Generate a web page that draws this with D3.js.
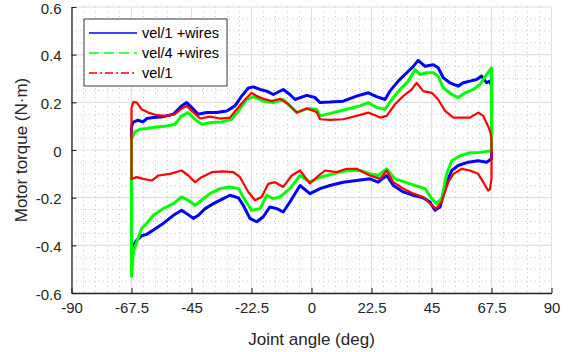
<!DOCTYPE html>
<html>
<head>
<meta charset="utf-8">
<script src="https://cdn.jsdelivr.net/npm/d3@7"></script>
<style>
  body { margin: 0; background: #fff; }
  svg { display: block; font-family: "Liberation Sans", Arial, sans-serif; }
</style>
</head>
<body>
<div class="chart"></div>
<script>
// tick values
const angleTicks = [-90, -67.5, -45, -22.5, 0, 22.5, 45, 67.5, 90];
const torqueTicks = [-0.6, -0.4, -0.2, 0, 0.2, 0.4, 0.6];

// series labels / colours
const seriesNames = ['vel/1 +wires', 'vel/4 +wires', 'vel/1'];
const seriesColors = ['#0000ff', '#00ff00', '#ff0000'];

// [angle (deg), torque (N·m)], upper branch goes left->right
const blueUpper = [[-67.5, 0.10], [-66.8, 0.117], [-65.1, 0.125], [-63.2, 0.118], [-61.8, 0.132], [-59.3, 0.136],
  [-55.6, 0.14], [-51.8, 0.15], [-48.7, 0.185], [-46.8, 0.199], [-44.9, 0.178], [-42.5, 0.15], [-39.3, 0.157],
  [-35.6, 0.157], [-31.8, 0.164], [-28.7, 0.185], [-26.2, 0.226], [-23.7, 0.26], [-21.8, 0.265], [-19.3, 0.254],
  [-16.8, 0.247], [-14.3, 0.233], [-10.6, 0.254], [-8.1, 0.233], [-6.2, 0.212], [-1.8, 0.229], [1.3, 0.22],
  [3.2, 0.199], [6.9, 0.201], [11.9, 0.205], [16.9, 0.226], [21.3, 0.24], [24.4, 0.224], [27.6, 0.212],
  [29.4, 0.247], [32.5, 0.289], [35.7, 0.324], [38.2, 0.351], [40.0, 0.376], [42.6, 0.351], [45.7, 0.358],
  [47.5, 0.345], [49.4, 0.303], [51.9, 0.282], [55.0, 0.268], [56.9, 0.282], [59.4, 0.289], [61.9, 0.296],
  [63.8, 0.31], [65.7, 0.282], [66.9, 0.289], [67.5, 0.268]];
// lower branch goes right->left
const blueLower = [[67.5, -0.037], [65.7, -0.051], [62.5, -0.045], [58.8, -0.051], [55.0, -0.065], [52.6, -0.086],
  [50.7, -0.135], [48.2, -0.239], [46.3, -0.253], [44.4, -0.218], [41.9, -0.201], [38.2, -0.19], [34.4, -0.176],
  [30.7, -0.149], [28.2, -0.107], [25.0, -0.135], [21.9, -0.121], [16.9, -0.128], [11.9, -0.135], [6.9, -0.149],
  [3.2, -0.162], [-0.6, -0.183], [-4.3, -0.149], [-8.1, -0.218], [-10.6, -0.26], [-13.0, -0.246], [-15.6, -0.239],
  [-18.1, -0.28], [-20.5, -0.301], [-23.1, -0.287], [-25.6, -0.232], [-27.4, -0.201], [-30.6, -0.19],
  [-33.1, -0.204], [-36.8, -0.225], [-39.9, -0.246], [-42.4, -0.274], [-44.3, -0.287], [-46.8, -0.267],
  [-48.7, -0.253], [-51.8, -0.274], [-55.6, -0.308], [-59.3, -0.336], [-61.8, -0.354], [-63.7, -0.36],
  [-65.5, -0.378], [-66.8, -0.399], [-67.5, -0.468]];

const greenUpper = [[-67.5, 0.046], [-66.2, 0.076], [-64.3, 0.087], [-61.8, 0.09], [-58.0, 0.097], [-54.3, 0.101],
  [-51.2, 0.108], [-48.7, 0.143], [-46.2, 0.157], [-43.7, 0.129], [-41.2, 0.108], [-37.4, 0.115], [-33.7, 0.118],
  [-29.9, 0.129], [-27.4, 0.164], [-24.3, 0.212], [-21.8, 0.224], [-18.1, 0.205], [-14.3, 0.199], [-10.6, 0.212],
  [-8.1, 0.185], [-5.5, 0.157], [-1.8, 0.174], [1.9, 0.171], [3.2, 0.143], [8.2, 0.157], [13.2, 0.171],
  [18.2, 0.185], [21.3, 0.199], [24.4, 0.178], [27.6, 0.171], [30.1, 0.212], [33.2, 0.254], [36.3, 0.289],
  [38.8, 0.337], [40.7, 0.317], [43.2, 0.324], [45.7, 0.324], [47.5, 0.31], [49.4, 0.261], [52.6, 0.233],
  [55.0, 0.22], [57.6, 0.24], [60.7, 0.254], [63.2, 0.275], [65.7, 0.317], [67.5, 0.345]];
const greenLower = [[67.5, -0.003], [63.2, -0.01], [59.4, -0.012], [55.7, -0.024], [52.6, -0.045], [50.7, -0.1],
  [48.8, -0.204], [46.9, -0.225], [45.1, -0.204], [42.6, -0.162], [38.8, -0.149], [35.1, -0.135], [31.3, -0.121],
  [28.2, -0.079], [25.0, -0.107], [21.9, -0.1], [18.2, -0.086], [13.2, -0.086], [8.2, -0.1], [3.2, -0.114],
  [-0.6, -0.135], [-4.3, -0.107], [-8.1, -0.162], [-11.8, -0.197], [-14.3, -0.204], [-16.8, -0.19],
  [-19.3, -0.246], [-22.4, -0.253], [-24.9, -0.211], [-27.4, -0.162], [-30.6, -0.155], [-34.3, -0.162],
  [-38.1, -0.183], [-41.2, -0.211], [-43.7, -0.232], [-46.2, -0.211], [-48.7, -0.197], [-51.8, -0.225],
  [-55.6, -0.246], [-59.3, -0.274], [-61.8, -0.308], [-63.7, -0.329], [-65.5, -0.385], [-66.8, -0.426],
  [-67.5, -0.53]];

const redUpper = [[-67.5, 0.178], [-66.8, 0.201], [-65.5, 0.199], [-63.7, 0.171], [-61.2, 0.157], [-58.0, 0.146],
  [-54.3, 0.143], [-51.2, 0.15], [-48.7, 0.174], [-46.8, 0.185], [-44.9, 0.164], [-41.8, 0.132], [-38.1, 0.14],
  [-34.3, 0.132], [-30.6, 0.136], [-28.0, 0.171], [-24.9, 0.212], [-22.4, 0.24], [-20.5, 0.226], [-18.1, 0.215],
  [-14.9, 0.205], [-11.8, 0.215], [-8.7, 0.192], [-5.5, 0.157], [-1.8, 0.174], [1.9, 0.16], [3.2, 0.129],
  [6.9, 0.126], [11.9, 0.129], [16.9, 0.143], [21.3, 0.157], [25.7, 0.136], [28.2, 0.143], [31.3, 0.192],
  [34.4, 0.226], [37.6, 0.254], [39.4, 0.282], [41.9, 0.247], [45.1, 0.24], [47.5, 0.212], [50.1, 0.164],
  [53.2, 0.136], [56.3, 0.136], [59.4, 0.136], [62.5, 0.157], [64.4, 0.143], [66.2, 0.101], [67.1, 0.074],
  [67.5, 0.046]];
const redLower = [[67.5, -0.12], [66.9, -0.165], [66.2, -0.17], [64.4, -0.135], [62.5, -0.1], [59.4, -0.086],
  [56.3, -0.079], [53.2, -0.1], [51.3, -0.135], [48.8, -0.218], [46.7, -0.246], [45.1, -0.232], [41.9, -0.197],
  [38.2, -0.183], [34.4, -0.162], [30.7, -0.135], [28.2, -0.086], [25.7, -0.121], [21.9, -0.107], [16.9, -0.079],
  [13.2, -0.079], [9.4, -0.093], [5.1, -0.086], [2.4, -0.11], [-0.6, -0.14], [-4.3, -0.086], [-7.4, -0.107],
  [-10.6, -0.155], [-13.7, -0.135], [-16.2, -0.142], [-18.7, -0.197], [-21.2, -0.211], [-23.7, -0.176],
  [-26.8, -0.114], [-29.3, -0.093], [-33.1, -0.09], [-37.4, -0.093], [-41.2, -0.114], [-43.7, -0.135],
  [-46.2, -0.107], [-48.7, -0.086], [-53.1, -0.1], [-57.4, -0.107], [-59.9, -0.128], [-63.1, -0.121],
  [-65.5, -0.114], [-67.5, -0.121]];

const loops = [
  { upper: blueUpper, lower: blueLower, width: 3 },
  { upper: greenUpper, lower: greenLower, width: 3 },
  { upper: redUpper, lower: redLower, width: 2.2 }
];

const w = 574;
const h = 352;
const margin = { top: 7, right: 22.5, bottom: 59, left: 71.5 };
const innerW = w - margin.left - margin.right;
const innerH = h - margin.top - margin.bottom;
const ink = '#262626';

const svg = d3.select('.chart')
  .append('svg')
  .attr('width', w)
  .attr('height', h);

const g = svg.append('g')
  .attr('transform', `translate(${margin.left}, ${margin.top})`);

const x = d3.scaleLinear().domain([-90, 90]).range([0, innerW]);
const y = d3.scaleLinear().domain([-0.6, 0.6]).range([innerH, 0]);

// minor grid (dotted)
const minorX = d3.range(-90, 90.01, 4.5).filter(v => !angleTicks.some(t => Math.abs(t - v) < 1e-6));
const minorY = d3.range(-0.6, 0.601, 0.05).filter(v => !torqueTicks.some(t => Math.abs(t - v) < 1e-6));

g.append('g')
  .selectAll('line')
  .data(minorX)
  .enter()
  .append('line')
  .attr('x1', d => x(d)).attr('x2', d => x(d))
  .attr('y1', 0).attr('y2', innerH)
  .attr('stroke', '#c4c4c4')
  .attr('stroke-width', 1)
  .attr('stroke-dasharray', '1,3.5');

g.append('g')
  .selectAll('line')
  .data(minorY)
  .enter()
  .append('line')
  .attr('x1', 0).attr('x2', innerW)
  .attr('y1', d => y(d)).attr('y2', d => y(d))
  .attr('stroke', '#c4c4c4')
  .attr('stroke-width', 1)
  .attr('stroke-dasharray', '1,3.5');

// major grid
g.append('g')
  .selectAll('line')
  .data(angleTicks)
  .enter()
  .append('line')
  .attr('x1', d => x(d)).attr('x2', d => x(d))
  .attr('y1', 0).attr('y2', innerH)
  .attr('stroke', '#e0e0e0')
  .attr('stroke-width', 1.2);

g.append('g')
  .selectAll('line')
  .data(torqueTicks)
  .enter()
  .append('line')
  .attr('x1', 0).attr('x2', innerW)
  .attr('y1', d => y(d)).attr('y2', d => y(d))
  .attr('stroke', '#e0e0e0')
  .attr('stroke-width', 1.2);

// data loops: upper branch, drop at right end, lower branch back, rise at left end
const line = d3.line()
  .x(d => x(d[0]))
  .y(d => y(d[1]));

g.append('g')
  .attr('class', 'loops')
  .selectAll('path')
  .data(loops)
  .enter()
  .append('path')
  .attr('d', d => line(d.upper.concat(d.lower, [d.upper[0]])))
  .attr('fill', 'none')
  .attr('stroke', (d, i) => seriesColors[i])
  .attr('stroke-width', d => d.width)
  .attr('stroke-linejoin', 'round');

// axes (plain hyphen for negatives, like the original)
const fmt = d => String(d).replace('\u2212', '-');

const xAxis = d3.axisBottom(x)
  .tickValues(angleTicks)
  .tickSizeInner(-5)
  .tickSizeOuter(0)
  .tickPadding(9)
  .tickFormat(fmt);

const yAxis = d3.axisLeft(y)
  .tickValues(torqueTicks)
  .tickSizeInner(-5)
  .tickSizeOuter(0)
  .tickPadding(10)
  .tickFormat(fmt);

const gx = g.append('g')
  .attr('transform', `translate(0, ${innerH})`)
  .call(xAxis);
const gy = g.append('g').call(yAxis);

[gx, gy].forEach(a => {
  a.select('.domain').attr('stroke', ink).attr('stroke-width', 1.3);
  a.selectAll('.tick line').attr('stroke', ink).attr('stroke-width', 1.1);
  a.selectAll('.tick text')
    .attr('fill', ink)
    .style('font-size', '15px')
    .style('font-family', '"Liberation Sans", Arial, sans-serif');
});
gy.selectAll('.tick text').attr('dy', '0.4em');

// axis titles
svg.append('text')
  .attr('x', margin.left + innerW / 2)
  .attr('y', 345)
  .attr('text-anchor', 'middle')
  .attr('fill', ink)
  .style('font-size', '17px')
  .text('Joint angle (deg)');

svg.append('text')
  .attr('transform', `translate(27, ${margin.top + innerH / 2}) rotate(-90)`)
  .attr('text-anchor', 'middle')
  .attr('fill', ink)
  .style('font-size', '17px')
  .text('Motor torque (N·m)');

// legend
const legend = svg.append('g').attr('transform', 'translate(84, 19)');
legend.append('rect')
  .attr('width', 143)
  .attr('height', 67)
  .attr('fill', '#fff')
  .attr('stroke', ink)
  .attr('stroke-width', 0.9);

const dashes = [null, '10,5', '8,3,2,3'];
const rows = legend.selectAll('.row')
  .data(seriesNames)
  .enter()
  .append('g')
  .attr('class', 'row')
  .attr('transform', (d, i) => `translate(0, ${14 + i * 20})`);

rows.append('line')
  .attr('x1', 5).attr('x2', 53)
  .attr('y1', 0).attr('y2', 0)
  .attr('stroke', (d, i) => seriesColors[i])
  .attr('stroke-width', 1.3)
  .attr('stroke-dasharray', (d, i) => dashes[i]);

rows.append('text')
  .attr('x', 58)
  .attr('y', 0)
  .attr('dy', '0.35em')
  .attr('fill', '#000')
  .style('font-size', '14.5px')
  .text(d => d);
</script>
</body>
</html>
